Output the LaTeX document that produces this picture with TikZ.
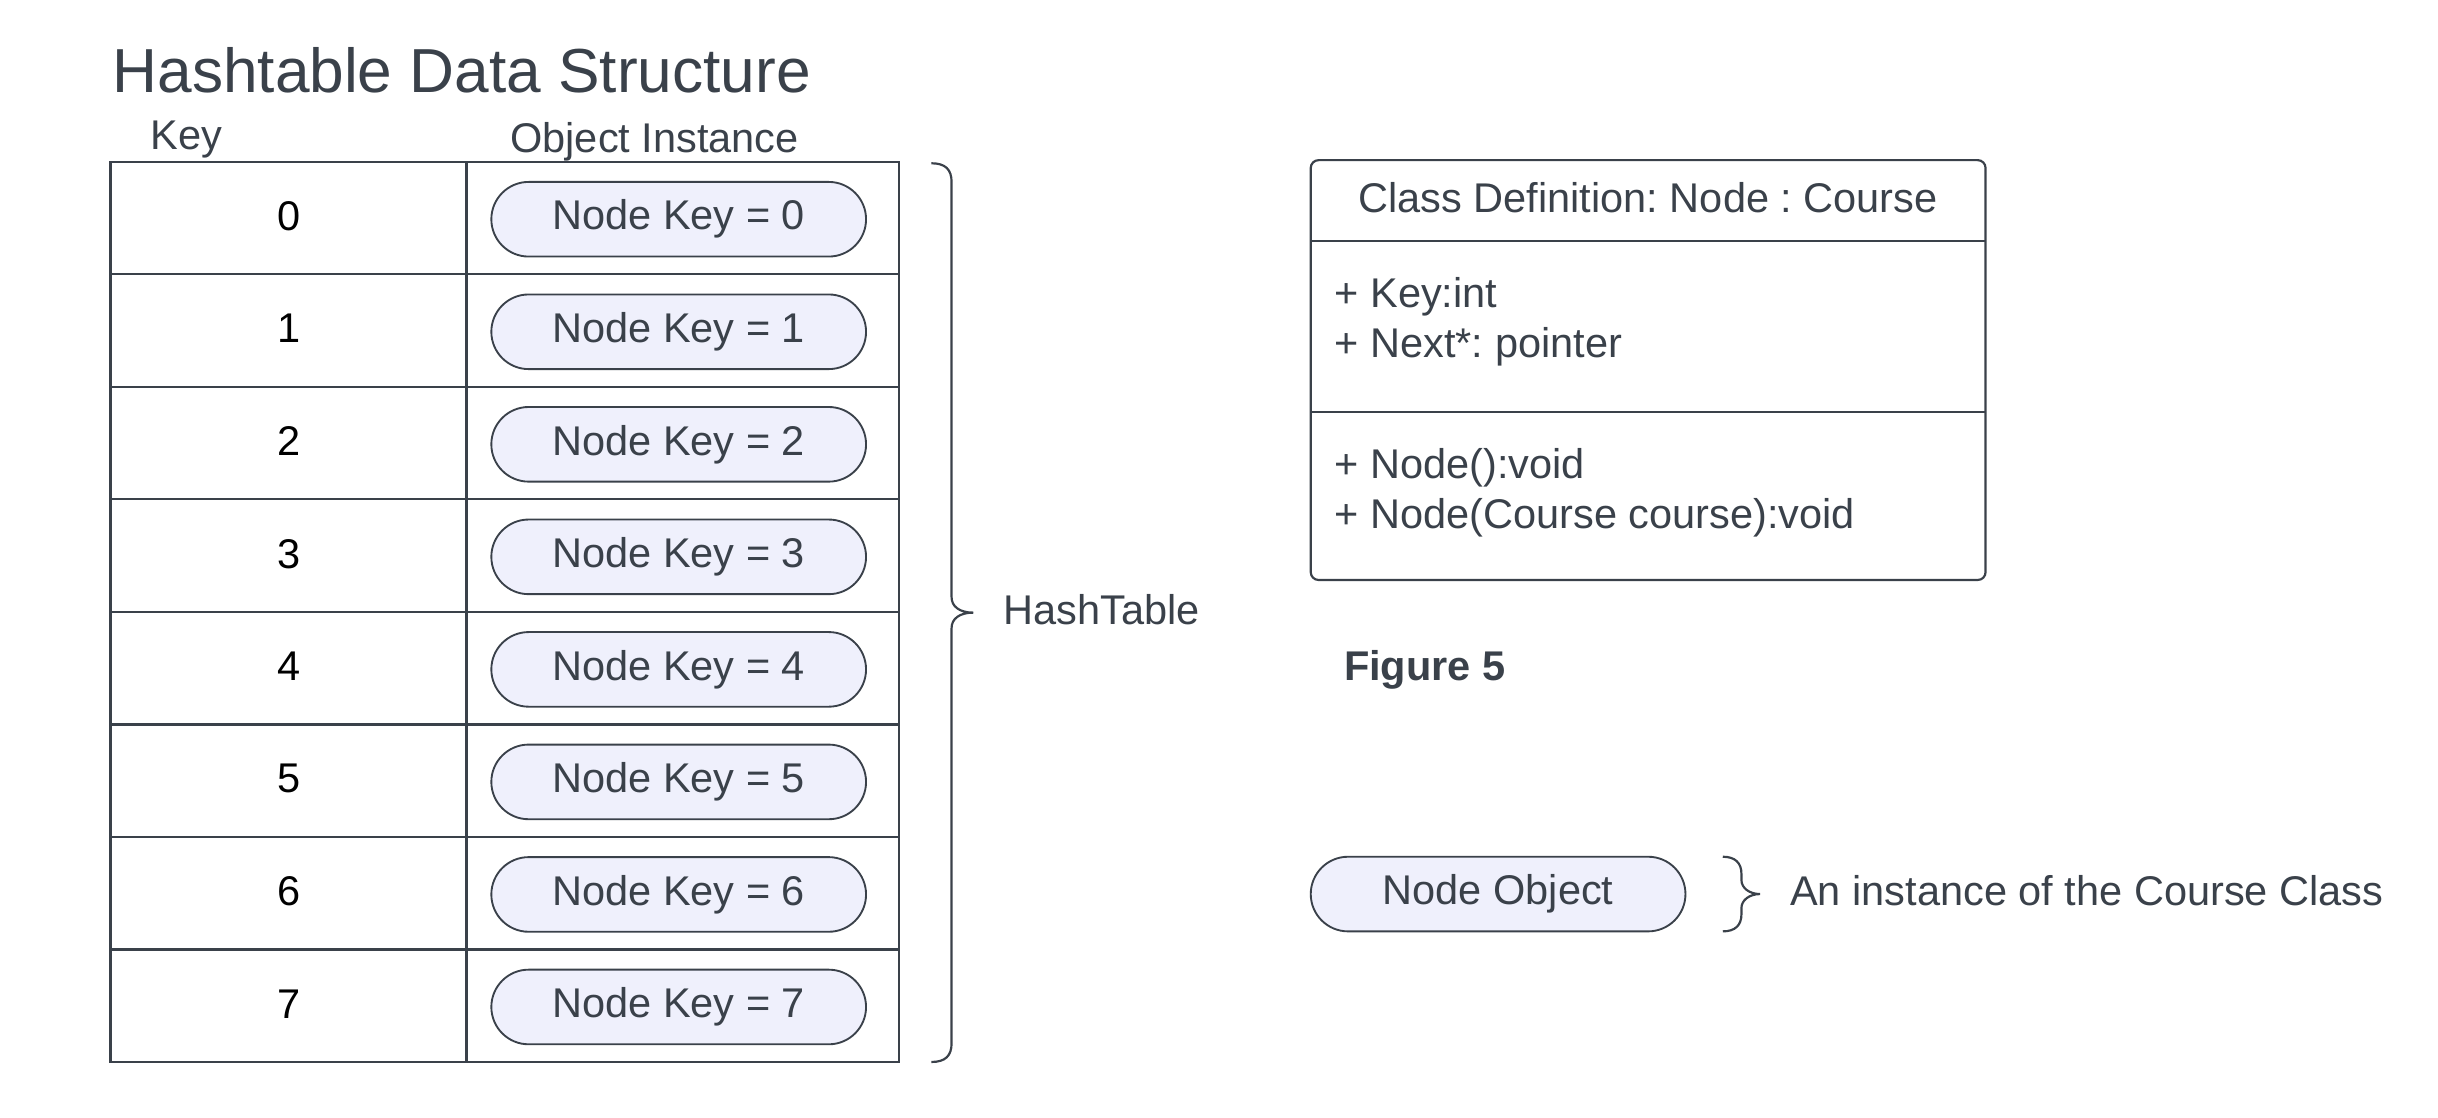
\documentclass[tikz,border=0pt]{standalone}
\usepackage{fontspec}
\setmainfont{Liberation Sans}
\frenchspacing
\definecolor{ink}{HTML}{3A414A}
\definecolor{pillfill}{HTML}{EFF0FC}
\begin{document}
\begin{tikzpicture}[x=0.5pt,y=-0.5pt,
  txt/.style={text=ink,font=\fontsize{13.35pt}{16pt}\selectfont,inner sep=0pt},
  cell/.style={draw=ink,line width=0.75pt,minimum width=114.5pt,minimum height=36.19pt,inner sep=0pt},
  ocell/.style={draw=ink,line width=0.75pt,minimum width=139pt,minimum height=36.19pt,inner sep=0pt},
  pill/.style={draw=ink,line width=0.6pt,fill=pillfill,rounded corners=12pt,minimum width=120.5pt,minimum height=24pt,inner sep=0pt,text=ink,font=\fontsize{13.35pt}{16pt}\selectfont},
  digit/.style={text=black,font=\fontsize{13.35pt}{16pt}\selectfont,inner sep=0pt},
  bracepath/.style={draw=ink,line width=0.7pt}]
\useasboundingbox (0,0) rectangle (1568,719);
\node[txt,anchor=west,font=\fontsize{20pt}{24pt}\selectfont] (title) at (72,45) {Hashtable Data Structure};
\node[txt] (hkey) at (120,90) {Key};
\node[txt] (hobj) at (421,91) {Object Instance};
\foreach \i in {0,...,7}{
  \pgfmathsetmacro{\cy}{140.19+72.375*\i}
  \pgfmathsetmacro{\py}{141+72.375*\i}
  \pgfmathsetmacro{\dy}{139+72.375*\i}
  \node[cell] (k\i) at (185.5,\cy) {};
  \node[ocell] (o\i) at (439,\cy) {};
  \node[digit] (d\i) at (186,\dy) {\i};
  \node[pill] (n\i) at (436.5,\py) {Node Key = \i};
}
\draw[bracepath] (599,105) .. controls (608,105) and (612,109) .. (612,117) -- (612,384) .. controls (612,390) and (617,394) .. (626,394) .. controls (617,394) and (612,398) .. (612,404) -- (612,671) .. controls (612,679) and (608,683) .. (599,683);
\node[txt,anchor=west] (htlabel) at (645,392) {HashTable};
\node[draw=ink,line width=0.7pt,rounded corners=2.5pt,minimum width=217pt,minimum height=135pt,inner sep=0pt] (cls) at (1060,238) {};
\coordinate (l1) at (843,155);
\coordinate (r1) at (1277,155);
\coordinate (l2) at (843,265);
\coordinate (r2) at (1277,265);
\draw[draw=ink,line width=0.6pt] (l1) -- (r1);
\draw[draw=ink,line width=0.75pt] (l2) -- (r2);
\node[txt] (clstitle) at (1060,127) {Class Definition: Node : Course};
\node[txt,anchor=west,align=left] (attrs) at (858,207) {+ Key:int\\+ Next*: pointer};
\node[txt,anchor=west,align=left] (meths) at (858,317) {+ Node():void\\+ Node(Course course):void};
\node[txt,anchor=west,font=\bfseries\fontsize{13.35pt}{16pt}\selectfont] (fig) at (864,431) {Figure 5};
\node[pill] (nobj) at (963.5,575) {Node Object};
\draw[bracepath] (1108,551) .. controls (1116,551) and (1120,555) .. (1120,562) -- (1120,566) .. controls (1120,571) and (1125,575) .. (1132,575) .. controls (1125,575) and (1120,579) .. (1120,584) -- (1120,588) .. controls (1120,595) and (1116,599) .. (1108,599);
\node[txt,anchor=west] (inst) at (1151,573) {An instance of the Course Class};
\end{tikzpicture}
\end{document}
